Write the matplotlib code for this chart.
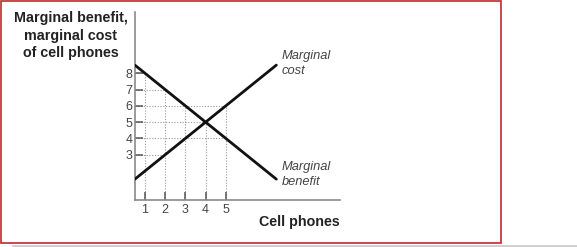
import numpy as np
import matplotlib
matplotlib.use("Agg")
import matplotlib.pyplot as plt
from matplotlib.patches import Rectangle
from matplotlib.lines import Line2D

plt.rcParams["font.family"] = ["Liberation Sans", "DejaVu Sans"]

# data
quantity = [1, 2, 3, 4, 5]
x_ends = [0.5, 7.5]
mb_intercept, mb_slope = 9.0, -1.0   # marginal benefit = 9 - q
mc_intercept, mc_slope = 1.0, 1.0    # marginal cost = 1 + q
y_ticks = [3, 4, 5, 6, 7, 8]

W, H = 577, 247
fig = plt.figure(figsize=(W / 100, H / 100), dpi=100)


def px(x, y):
    return x / W, 1 - y / H


# axes placed in pixel terms
l, b = px(135, 200)
r, t = px(340, 12)
ax = fig.add_axes([l, b, r - l, t - b])
ax.set_xlim(0.505, 10.65)
ax.set_ylim(0.22, 11.76)

xs = np.array(x_ends)
mb = mb_intercept + mb_slope * xs
mc = mc_intercept + mc_slope * xs

# dotted guide lines
q = np.array(quantity)
mb_q = mb_intercept + mb_slope * q
mc_q = mc_intercept + mc_slope * q
grid_kw = dict(color="#9a9a9a", lw=0.8, ls=(0, (1, 1.5)), zorder=1)
for qi, bi, ci in zip(q, mb_q, mc_q):
    ax.plot([qi, qi], [0.22, max(bi, ci)], **grid_kw)
ylines = {}
for qi, v in list(zip(q, mb_q)) + list(zip(q, mc_q)):
    if v >= min(y_ticks):
        ylines[v] = max(ylines.get(v, 0), qi)
for v, qi in ylines.items():
    ax.plot([0.505, qi], [v, v], **grid_kw)

ax.plot(xs, mb, color="#111111", lw=2.0, solid_capstyle="round", zorder=3)
ax.plot(xs, mc, color="#111111", lw=2.0, solid_capstyle="round", zorder=3)

for s in ["top", "right"]:
    ax.spines[s].set_visible(False)
for s in ["left", "bottom"]:
    ax.spines[s].set_color("#8a8a8a")
    ax.spines[s].set_linewidth(1.2)

ax.set_xticks(quantity)
ax.set_yticks(y_ticks)
ax.tick_params(direction="in", length=6, width=1.1, color="#555555",
               labelsize=9, labelcolor="#444444", pad=2)
ax.tick_params(axis="x", pad=3)
ax.set_facecolor("none")

# text labels
fig.text(*px(71, 11), "Marginal benefit,\nmarginal cost\nof cell phones",
         ha="center", va="top", fontsize=10.3, fontweight="bold",
         color="#222222", linespacing=1.33)
fig.text(*px(340, 222), "Cell phones", ha="right", va="center",
         fontsize=10.3, fontweight="bold", color="#222222")
fig.text(*px(282, 50), "Marginal\ncost", ha="left", va="top",
         fontsize=9.3, style="italic", color="#444444", linespacing=1.35)
fig.text(*px(282, 161), "Marginal\nbenefit", ha="left", va="top",
         fontsize=9.3, style="italic", color="#444444", linespacing=1.35)

# frame
fig.patches.append(Rectangle(px(1, 243), 500 / W, 242 / H, transform=fig.transFigure,
                             fill=False, edgecolor="#c0272d", lw=1.2))
fig.lines.append(Line2D([13 / W, 1], [1 - 245.7 / H] * 2, transform=fig.transFigure,
                        color="#c8c8c8", lw=1.2))

fig.savefig("out.png", dpi=100)
